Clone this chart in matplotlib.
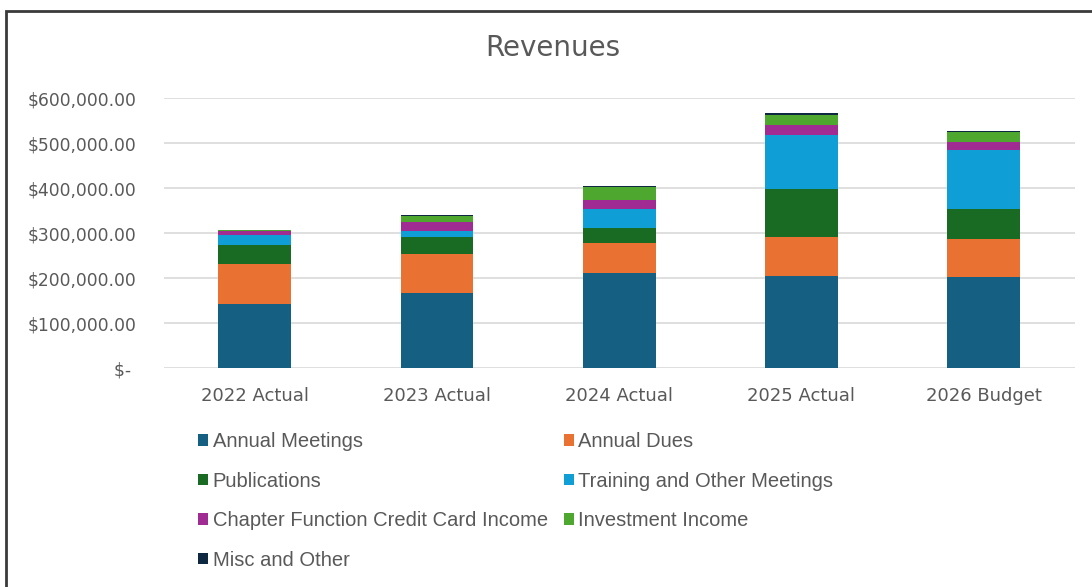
import numpy as np
import matplotlib
matplotlib.use("Agg")
import matplotlib.pyplot as plt
from matplotlib.patches import Rectangle
from matplotlib.ticker import FuncFormatter

plt.rcParams['font.family'] = ['DejaVu Sans']

years = ['2022 Actual', '2023 Actual', '2024 Actual', '2025 Actual', '2026 Budget']

annual_meetings = [142000, 168000, 212000, 206000, 203600]
annual_dues = [89000, 86000, 67000, 86500, 83400]
publications = [43000, 38500, 33500, 105500, 67700]
training = [23000, 12500, 41500, 120000, 129300]
chapter_cc = [7500, 21000, 20700, 22700, 18000]
investment = [2000, 13000, 27300, 21300, 22000]
misc = [1500, 1500, 2000, 5000, 2700]

names = ['Annual Meetings', 'Annual Dues', 'Publications', 'Training and Other Meetings',
         'Chapter Function Credit Card Income', 'Investment Income', 'Misc and Other']
colors = ['#156082', '#e97132', '#196b24', '#0f9ed5', '#a02b93', '#4ea72e', '#0e2841']
series = [annual_meetings, annual_dues, publications, training, chapter_cc, investment, misc]

fig = plt.figure(figsize=(10.92, 5.87), dpi=100)
ax = fig.add_axes([0.150, 0.3726, 0.834, 0.46])

x = np.arange(len(years))
bottom = np.zeros(len(years))
handles = []
for vals, name, c in zip(series, names, colors):
    b = ax.bar(x, vals, 0.4, bottom=bottom, color=c, label=name, zorder=3)
    handles.append(b)
    bottom += np.array(vals)

ax.set_xlim(-0.5, 4.5)
ax.set_ylim(0, 600000)
ax.set_yticks(np.arange(0, 600001, 100000))

def fmt(v, pos):
    if v == 0:
        return '$- '
    return '${:,.2f}'.format(v)

ax.yaxis.set_major_formatter(FuncFormatter(fmt))
ax.set_xticks(x)
ax.set_xticklabels(years)
ax.tick_params(axis='y', length=0, pad=19.5, labelsize=12.3, labelcolor='#595959')
ax.tick_params(axis='x', length=0, pad=13.5, labelsize=13, labelcolor='#595959')
ax.grid(axis='y', color='#d9d9d9', linewidth=1.2, zorder=0)
for s in ax.spines.values():
    s.set_visible(False)

fig.text(0.506, 0.918, 'Revenues', ha='center', va='center', fontsize=20, color='#595959')

# legend in Excel row order
order = [0, 2, 4, 6, 1, 3, 5]
leg = fig.legend([handles[i] for i in order], [names[i] for i in order],
                 loc='upper left', bbox_to_anchor=(0.174, 0.2775), ncol=2,
                 frameon=False, handlelength=0.5, handleheight=0.5,
                 handletextpad=0.22, columnspacing=0.8, labelspacing=1.02,
                 borderaxespad=0,
                 prop={'family': ['Liberation Sans'], 'size': 14.5})
for t in leg.get_texts():
    t.set_color('#595959')

# chart frame (cropped at right and bottom)
fig.patches.append(Rectangle((6 / 1092, -0.1), 1.2, 1 - 11 / 587 + 0.1,
                             transform=fig.transFigure, fill=False,
                             edgecolor='#3a3a3a', linewidth=2))

fig.savefig('out.png', dpi=100)
